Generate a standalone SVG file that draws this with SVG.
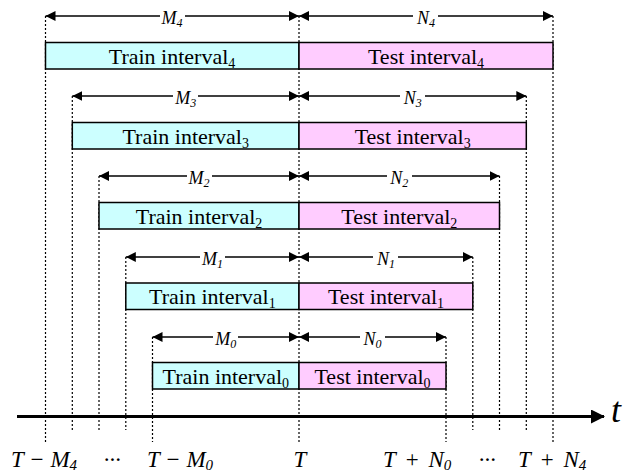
<svg xmlns="http://www.w3.org/2000/svg" width="636" height="474" viewBox="0 0 636 474">
<defs>
<marker id="ah" viewBox="0 0 10 10" refX="10" refY="5" markerWidth="10" markerHeight="10" markerUnits="userSpaceOnUse" orient="auto-start-reverse">
<path d="M0,0 L10,5 L0,10 z" fill="#000"/>
</marker>
<marker id="axh" viewBox="0 0 14 14" refX="13" refY="7" markerWidth="14" markerHeight="14" markerUnits="userSpaceOnUse" orient="auto">
<path d="M0,0 L14,7 L0,14 z" fill="#000"/>
</marker>
</defs>
<style>
text{font-family:'Liberation Serif','Times New Roman','DejaVu Serif',serif;fill:#000}
.train{fill:#CCFFFF;stroke:#000;stroke-width:1.5}
.test{fill:#FFCCFF;stroke:#000;stroke-width:1.5}
.box{font-size:22px;text-anchor:middle}
.sub{font-size:14px}
.dim{stroke:#000;stroke-width:1.3;fill:none;marker-start:url(#ah);marker-end:url(#ah)}
.dot{stroke:#000;stroke-width:1.2;stroke-dasharray:2,2;fill:none}
.lbl{font-style:italic;font-size:18px;text-anchor:middle}
.lsub{font-size:12px}
.ax{font-style:italic;font-size:23px}
.wide{word-spacing:3px}
.axs{font-size:15px}
.bg{fill:#fff}
</style>
<g id="guides">
<path class="dot" d="M45.5,16V442 M72.3,96V430 M99,176V430 M125.8,257V430 M152.5,337V442 M299,16V442 M446,337V442 M472.8,257V430 M499.5,176V430 M526.3,96V430 M553,16V442"/>
</g>
<g id="axis">
<line x1="17" y1="416.5" x2="604" y2="416.5" stroke="#000" stroke-width="3.2" marker-end="url(#axh)"/>
<text x="611" y="422" font-style="italic" font-size="36">t</text>
</g>
<g id="connectors">
<line class="dim" x1="45.5" y1="16" x2="299" y2="16"/>
<line class="dim" x1="299" y1="16" x2="553" y2="16"/>
<line class="dim" x1="72.3" y1="96" x2="299" y2="96"/>
<line class="dim" x1="299" y1="96" x2="526.3" y2="96"/>
<line class="dim" x1="99" y1="176" x2="299" y2="176"/>
<line class="dim" x1="299" y1="176" x2="499.5" y2="176"/>
<line class="dim" x1="125.8" y1="257" x2="299" y2="257"/>
<line class="dim" x1="299" y1="257" x2="472.8" y2="257"/>
<line class="dim" x1="152.5" y1="337" x2="299" y2="337"/>
<line class="dim" x1="299" y1="337" x2="446" y2="337"/>
</g>
<g id="labels">
<rect class="bg" x="160" y="9" width="25" height="14"/><text class="lbl" x="172" y="24">M<tspan class="lsub" dy="3">4</tspan></text>
<rect class="bg" x="413" y="9" width="25" height="14"/><text class="lbl" x="426" y="24">N<tspan class="lsub" dy="3">4</tspan></text>
<rect class="bg" x="173" y="89" width="25" height="14"/><text class="lbl" x="185.7" y="104">M<tspan class="lsub" dy="3">3</tspan></text>
<rect class="bg" x="400" y="89" width="25" height="14"/><text class="lbl" x="412.7" y="104">N<tspan class="lsub" dy="3">3</tspan></text>
<rect class="bg" x="187" y="169" width="25" height="14"/><text class="lbl" x="199" y="184">M<tspan class="lsub" dy="3">2</tspan></text>
<rect class="bg" x="387" y="169" width="25" height="14"/><text class="lbl" x="399.3" y="184">N<tspan class="lsub" dy="3">2</tspan></text>
<rect class="bg" x="200" y="250" width="25" height="14"/><text class="lbl" x="212.4" y="265">M<tspan class="lsub" dy="3">1</tspan></text>
<rect class="bg" x="373" y="250" width="25" height="14"/><text class="lbl" x="386" y="265">N<tspan class="lsub" dy="3">1</tspan></text>
<rect class="bg" x="213" y="330" width="25" height="14"/><text class="lbl" x="225.8" y="345">M<tspan class="lsub" dy="3">0</tspan></text>
<rect class="bg" x="360" y="330" width="25" height="14"/><text class="lbl" x="372.5" y="345">N<tspan class="lsub" dy="3">0</tspan></text>
</g>
<g id="train4"><rect class="train" x="45.5" y="42.5" width="253.5" height="26.5"/><text class="box" x="172" y="63.5">Train interval<tspan class="sub" dy="4">4</tspan></text></g>
<g id="test4"><rect class="test" x="299" y="42.5" width="254" height="26.5"/><text class="box" x="426" y="63.5">Test interval<tspan class="sub" dy="4">4</tspan></text></g>
<g id="train3"><rect class="train" x="72.3" y="122.5" width="226.7" height="26.5"/><text class="box" x="185.7" y="143.5">Train interval<tspan class="sub" dy="4">3</tspan></text></g>
<g id="test3"><rect class="test" x="299" y="122.5" width="227.3" height="26.5"/><text class="box" x="412.7" y="143.5">Test interval<tspan class="sub" dy="4">3</tspan></text></g>
<g id="train2"><rect class="train" x="99" y="202.5" width="200" height="26.5"/><text class="box" x="199" y="223.5">Train interval<tspan class="sub" dy="4">2</tspan></text></g>
<g id="test2"><rect class="test" x="299" y="202.5" width="200.5" height="26.5"/><text class="box" x="399.3" y="223.5">Test interval<tspan class="sub" dy="4">2</tspan></text></g>
<g id="train1"><rect class="train" x="125.8" y="283" width="173.2" height="26.5"/><text class="box" x="212.4" y="304">Train interval<tspan class="sub" dy="4">1</tspan></text></g>
<g id="test1"><rect class="test" x="299" y="283" width="173.8" height="26.5"/><text class="box" x="386" y="304">Test interval<tspan class="sub" dy="4">1</tspan></text></g>
<g id="train0"><rect class="train" x="152.5" y="362.5" width="146.5" height="26.5"/><text class="box" x="225.8" y="383.5">Train interval<tspan class="sub" dy="4">0</tspan></text></g>
<g id="test0"><rect class="test" x="299" y="362.5" width="147" height="26.5"/><text class="box" x="372.5" y="383.5">Test interval<tspan class="sub" dy="4">0</tspan></text></g>
<g id="ticks">
<text class="ax" x="11" y="467">T − M<tspan class="axs" dy="3">4</tspan></text>
<text class="ax" x="112" y="467" text-anchor="middle">···</text>
<text class="ax" x="147" y="467">T − M<tspan class="axs" dy="3">0</tspan></text>
<text class="ax" x="300" y="467" text-anchor="middle">T</text>
<text class="ax wide" x="383" y="467">T + N<tspan class="axs" dy="3">0</tspan></text>
<text class="ax" x="487" y="467" text-anchor="middle">···</text>
<text class="ax wide" x="518" y="467">T + N<tspan class="axs" dy="3">4</tspan></text>
</g>
</svg>
